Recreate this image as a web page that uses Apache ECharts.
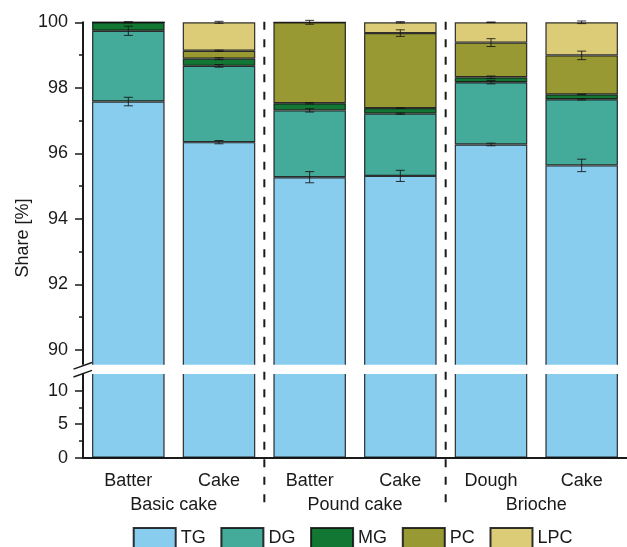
<!DOCTYPE html>
<html>
<head>
<meta charset="utf-8">
<script src="https://cdn.jsdelivr.net/npm/echarts@6/dist/echarts.min.js"></script>
<style>
  html, body { margin: 0; padding: 0; background: #fff; }
  #chart { width: 627px; height: 547px; }
</style>
</head>
<body>
<div id="chart"></div>
<script>
// Lipid class shares per sample (percent of total), bottom to top of each stack
const categories = ['Batter', 'Cake', 'Batter', 'Cake', 'Dough', 'Cake'];
const groups = ['Basic cake', 'Pound cake', 'Brioche'];
const classNames = ['TG', 'DG', 'MG', 'PC', 'LPC'];

const TG  = [97.58, 96.34, 95.27, 95.31, 96.27, 95.63];
const DG  = [2.16, 2.33, 2.04, 1.90, 1.90, 2.02];
const MG  = [0.26, 0.22, 0.22, 0.17, 0.15, 0.15];
const PC  = [0.00, 0.24, 2.47, 2.29, 1.06, 1.19];
const LPC = [0.00, 0.87, 0.00, 0.33, 0.62, 1.01];

// Standard deviations, drawn at the top of each segment
const TG_err  = [0.13, 0.05, 0.17, 0.17, 0.04, 0.19];
const DG_err  = [0.14, 0.04, 0.05, 0.02, 0.05, 0.02];
const MG_err  = [0.02, 0.03, 0.02, 0.01, 0.04, 0.01];
const PC_err  = [0.00, 0.02, 0.06, 0.10, 0.12, 0.13];
const LPC_err = [0.00, 0.03, 0.00, 0.02, 0.01, 0.04];

// Axis ticks for the two parts of the broken y-axis
const upperMajorTicks = [90, 92, 94, 96, 98, 100];
const upperMinorTicks = [91, 93, 95, 97, 99];
const lowerMajorTicks = [0, 5, 10];
const lowerMinorTicks = [2.5, 7.5];

const colors = ['#88CCEE', '#44AA99', '#117733', '#999933', '#DDCC77'];
const FONT = 'Liberation Sans, Arial, sans-serif';
const INK = '#1a1a1a';

const values = [TG, DG, MG, PC, LPC];
const errors = [TG_err, DG_err, MG_err, PC_err, LPC_err];

// Upper panel spans 89.38..100, lower panel 0..13.24; the white band hides the seam
const upperMin = 89.383, upperMax = 100;
const lowerMin = 0, lowerMax = 13.24;

// Error bar points: [category index, segment top, sd]
const errData = [];
categories.forEach((c, i) => {
  let top = 0;
  values.forEach((arr, k) => {
    top += arr[i];
    if (arr[i] > 0) errData.push([i, top, errors[k][i]]);
  });
});

const barStyle = (k) => ({
  color: colors[k],
  borderColor: 'rgba(15,15,15,0.85)',
  borderWidth: 1.2
});

const series = [];
classNames.forEach((name, k) => {
  series.push({
    name: name, type: 'bar', stack: 'upper',
    xAxisIndex: 0, yAxisIndex: 0,
    barCategoryGap: '20%',
    itemStyle: barStyle(k),
    data: values[k]
  });
});
series.push({
  name: 'TG', type: 'bar', stack: 'lower',
  xAxisIndex: 1, yAxisIndex: 2,
  barCategoryGap: '20%',
  itemStyle: barStyle(0),
  data: TG
});
series.push({
  type: 'custom', xAxisIndex: 0, yAxisIndex: 0, z: 5,
  clip: false,
  data: errData,
  renderItem: function (params, api) {
    const x = api.value(0), top = api.value(1), e = api.value(2);
    const hi = api.coord([x, top + e]);
    const lo = api.coord([x, top - e]);
    const w = 4.5;
    const st = { stroke: 'rgba(20,20,20,0.85)', lineWidth: 1 };
    return {
      type: 'group',
      children: [
        { type: 'line', shape: { x1: hi[0], y1: hi[1], x2: lo[0], y2: lo[1] }, style: st },
        { type: 'line', shape: { x1: hi[0] - w, y1: hi[1], x2: hi[0] + w, y2: hi[1] }, style: st },
        { type: 'line', shape: { x1: lo[0] - w, y1: lo[1], x2: lo[0] + w, y2: lo[1] }, style: st }
      ]
    };
  }
});

const axisLineStyle = { color: INK, width: 2 };
const labelStyle = { color: INK, fontSize: 18, fontFamily: FONT };

const option = {
  animation: false,
  backgroundColor: '#fff',
  textStyle: { fontFamily: FONT },
  grid: [
    { left: 83, right: 0, top: 22.3, height: 347.7 },
    { left: 83, right: 0, top: 369, height: 88.7 }
  ],
  xAxis: [
    { type: 'category', gridIndex: 0, data: categories, show: false },
    {
      type: 'category', gridIndex: 1, data: categories, position: 'bottom',
      axisLine: { lineStyle: axisLineStyle },
      axisTick: { alignWithLabel: true, length: 7, lineStyle: { color: INK, width: 1.5 } },
      axisLabel: Object.assign({ margin: 14 }, labelStyle)
    },
    {
      type: 'category', gridIndex: 1, data: groups, position: 'bottom', offset: 24,
      axisLine: { show: false }, axisTick: { show: false },
      axisLabel: Object.assign({ margin: 14 }, labelStyle)
    }
  ],
  yAxis: [
    {
      type: 'value', gridIndex: 0, position: 'left', min: upperMin, max: upperMax,
      axisLine: { show: true, lineStyle: axisLineStyle },
      axisTick: { show: true, length: 8, customValues: upperMajorTicks, lineStyle: { color: INK, width: 1.5 } },
      axisLabel: Object.assign({ margin: 15, customValues: upperMajorTicks }, labelStyle),
      splitLine: { show: false }
    },
    {
      type: 'value', gridIndex: 0, position: 'left', min: upperMin, max: upperMax,
      axisLine: { show: false },
      axisTick: { show: true, length: 4, customValues: upperMinorTicks, lineStyle: { color: INK, width: 1.5 } },
      axisLabel: { show: false },
      splitLine: { show: false }
    },
    {
      type: 'value', gridIndex: 1, position: 'left', min: lowerMin, max: lowerMax,
      axisLine: { show: true, lineStyle: axisLineStyle },
      axisTick: { show: true, length: 8, customValues: lowerMajorTicks, lineStyle: { color: INK, width: 1.5 } },
      axisLabel: Object.assign({ margin: 15, customValues: lowerMajorTicks }, labelStyle),
      splitLine: { show: false }
    },
    {
      type: 'value', gridIndex: 1, position: 'left', min: lowerMin, max: lowerMax,
      axisLine: { show: false },
      axisTick: { show: true, length: 4, customValues: lowerMinorTicks, lineStyle: { color: INK, width: 1.5 } },
      axisLabel: { show: false },
      splitLine: { show: false }
    }
  ],
  legend: {
    data: classNames,
    left: 132.7, top: 527, padding: 0,
    icon: 'rect', itemWidth: 42, itemHeight: 20, itemGap: 14.7,
    textStyle: { color: INK, fontSize: 18, fontFamily: FONT }
  },
  series: series
};

const chart = echarts.init(document.getElementById('chart'), null, { renderer: 'canvas' });
chart.setOption(option);

// Decorations placed from the axis scales: axis break, group separators, y-axis title
const yBandTop = chart.convertToPixel({ yAxisIndex: 0 }, 89.54);
const yBandBot = chart.convertToPixel({ yAxisIndex: 2 }, 12.5);
const yTop = chart.convertToPixel({ yAxisIndex: 0 }, 100);
const yZero = chart.convertToPixel({ yAxisIndex: 2 }, 0);
const xAxisX = chart.convertToPixel({ xAxisIndex: 1 }, 0) - (chart.convertToPixel({ xAxisIndex: 1 }, 1) - chart.convertToPixel({ xAxisIndex: 1 }, 0)) / 2;
const sepX = [1.5, 3.5].map(v => {
  const a = chart.convertToPixel({ xAxisIndex: 1 }, Math.floor(v));
  const b = chart.convertToPixel({ xAxisIndex: 1 }, Math.ceil(v));
  return (a + b) / 2;
});

const graphics = [
  {
    type: 'rect', z: 100,
    shape: { x: xAxisX - 3, y: yBandTop, width: 627 - xAxisX + 3, height: yBandBot - yBandTop },
    style: { fill: '#fff' }
  },
  {
    type: 'line', z: 101,
    shape: { x1: xAxisX - 9.5, y1: yBandTop + 4.3, x2: xAxisX + 9, y2: yBandTop - 2.3 },
    style: { stroke: INK, lineWidth: 1.5 }
  },
  {
    type: 'line', z: 101,
    shape: { x1: xAxisX - 9.5, y1: yBandBot + 3, x2: xAxisX + 9, y2: yBandBot - 3.6 },
    style: { stroke: INK, lineWidth: 1.5 }
  },
  {
    type: 'text', z: 101,
    x: 23, y: (yTop + yZero) / 2 - 2, rotation: Math.PI / 2,
    style: { text: 'Share [%]', fill: INK, font: '18px ' + FONT, align: 'center', verticalAlign: 'middle' }
  }
];
sepX.forEach(x => {
  graphics.push({
    type: 'line', z: 102,
    shape: { x1: x, y1: yTop - 0.5, x2: x, y2: yZero + 48 },
    style: { stroke: INK, lineWidth: 2, lineDash: [8, 9.5] }
  });
});
chart.setOption({ graphic: graphics });
</script>
</body>
</html>
